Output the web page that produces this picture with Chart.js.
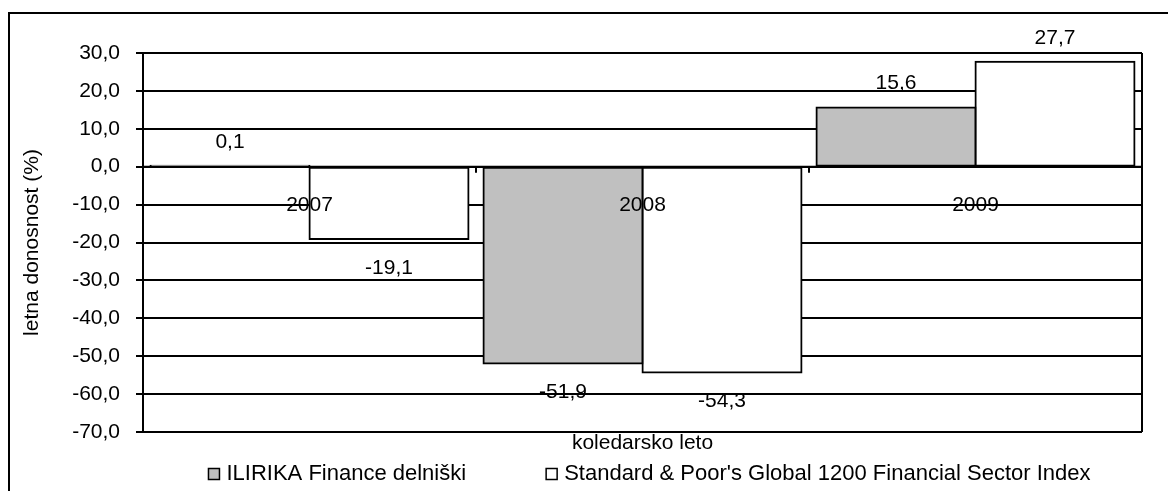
<!DOCTYPE html>
<html><head><meta charset="utf-8">
<script src="https://cdn.jsdelivr.net/npm/chart.js@4"></script>
<style>html,body{margin:0;padding:0;background:#fff}#wrap{width:1168px;height:491px;position:relative}</style>
</head><body><div id="wrap"><canvas id="c"></canvas></div>
<script>
const categories = ['2007', '2008', '2009'];
const seriesNames = ['ILIRIKA Finance delniški', "Standard & Poor's Global 1200 Financial Sector Index"];
const ilirika = [0.1, -51.9, 15.6];
const spIndex = [-19.1, -54.3, 27.7];
const yMin = -70, yMax = 30, yStep = 10;
const yTitle = 'letna donosnost (%)';
const xTitle = 'koledarsko leto';

const FONT = '"Liberation Sans", Arial, sans-serif';
const FS = 21;
const fmt = v => Number(v).toFixed(1).replace('.', ',');

const decor = {
  id: 'decor',
  beforeDraw(chart) {
    const ctx = chart.ctx;
    ctx.save();
    ctx.fillStyle = '#fff';
    ctx.fillRect(0, 0, chart.width, chart.height);
    ctx.strokeStyle = '#000';
    ctx.lineWidth = 2;
    ctx.strokeRect(9, 13, chart.width + 40, chart.height + 40);
    ctx.restore();
  },
  afterDatasetsDraw(chart) {
    const ctx = chart.ctx, xs = chart.scales.x, ys = chart.scales.y, ca = chart.chartArea;
    const y0 = ys.getPixelForValue(0);
    ctx.save();
    ctx.strokeStyle = '#000';
    ctx.lineWidth = 2;
    ctx.beginPath(); ctx.moveTo(ca.right, ca.top); ctx.lineTo(ca.right, ca.bottom); ctx.stroke();
    // zero (category) axis line on top of the bars
    ctx.beginPath(); ctx.moveTo(ca.left, y0); ctx.lineTo(ca.right, y0); ctx.stroke();
    const half = (xs.getPixelForValue(1) - xs.getPixelForValue(0)) / 2;
    for (let i = 0; i <= categories.length; i++) {
      const px = xs.getPixelForValue(0) - half + i * 2 * half;
      ctx.beginPath(); ctx.moveTo(px, y0); ctx.lineTo(px, y0 + 6); ctx.stroke();
    }
    ctx.font = FS + 'px ' + FONT;
    ctx.fillStyle = '#000';
    ctx.textAlign = 'center';
    ctx.textBaseline = 'middle';
    categories.forEach((c, i) => ctx.fillText(c, xs.getPixelForValue(i), y0 + 39));
    chart.data.datasets.forEach((ds, di) => {
      const meta = chart.getDatasetMeta(di);
      meta.data.forEach((bar, i) => {
        const v = ds.data[i];
        const py = v >= 0 ? bar.y - 24 : bar.y + 29;
        ctx.fillText(fmt(v), bar.x, py);
      });
    });
    // legend
    ctx.font = (FS + 1) + 'px ' + FONT;
    ctx.textAlign = 'left';
    const box = 11, gap = 7, spacing = 80;
    const items = chart.data.datasets.map(ds => ({ label: ds.label, fill: ds.backgroundColor, w: ctx.measureText(ds.label).width }));
    const total = items.reduce((s, it) => s + box + gap + it.w, 0) + spacing * (items.length - 1);
    let lx = (ca.left + ca.right) / 2 - total / 2 + 7;
    const ly = chart.height - 17;
    ctx.lineWidth = 1.5;
    items.forEach(it => {
      ctx.fillStyle = it.fill;
      ctx.fillRect(lx, ly - box / 2, box, box);
      ctx.strokeRect(lx, ly - box / 2, box, box);
      ctx.fillStyle = '#000';
      ctx.fillText(it.label, lx + box + gap, ly);
      lx += box + gap + it.w + spacing;
    });
    ctx.restore();
  }
};

new Chart(document.getElementById('c'), {
  type: 'bar',
  data: {
    labels: categories,
    datasets: [
      { label: seriesNames[0], data: ilirika, backgroundColor: '#C0C0C0', borderColor: '#000', borderWidth: 2, borderSkipped: false, inflateAmount: 1, categoryPercentage: 0.955, barPercentage: 1 },
      { label: seriesNames[1], data: spIndex, backgroundColor: '#FFFFFF', borderColor: '#000', borderWidth: 2, borderSkipped: false, inflateAmount: 1, categoryPercentage: 0.955, barPercentage: 1 }
    ]
  },
  options: {
    responsive: true,
    maintainAspectRatio: false,
    animation: false,
    layout: { padding: { left: 20, top: 53, right: 26, bottom: 35 } },
    plugins: { legend: { display: false }, tooltip: { enabled: false } },
    scales: {
      x: {
        ticks: { display: false },
        grid: { display: false, drawTicks: false },
        border: { display: false },
        title: { display: true, text: xTitle, color: '#000', font: { size: FS, family: FONT }, padding: 0 },
        afterFit(s) { s.height = 24; }
      },
      y: {
        min: yMin, max: yMax,
        ticks: { stepSize: yStep, callback: v => fmt(v), color: '#000', font: { size: FS, family: FONT }, padding: 16 },
        grid: { color: '#000', lineWidth: 2, tickLength: 7, drawTicks: true },
        border: { color: '#000', width: 2 },
        title: { display: true, text: yTitle, color: '#000', font: { size: FS, family: FONT }, padding: 0 },
        afterFit(s) { s.width = 123; }
      }
    }
  },
  plugins: [decor]
});
</script></body></html>
